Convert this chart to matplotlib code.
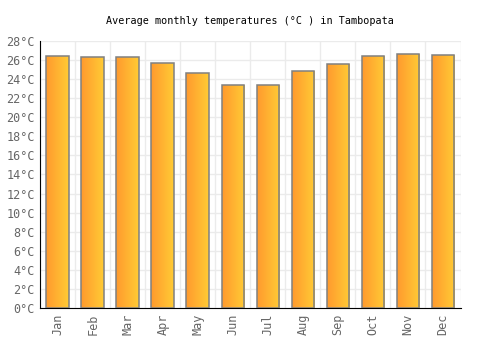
import numpy as np
import matplotlib.pyplot as plt
from matplotlib.colors import LinearSegmentedColormap

# Average monthly temperatures in Tambopata
months = ['Jan', 'Feb', 'Mar', 'Apr', 'May', 'Jun', 'Jul', 'Aug', 'Sep', 'Oct', 'Nov', 'Dec']
temps = [26.4, 26.3, 26.3, 25.7, 24.6, 23.4, 23.4, 24.8, 25.6, 26.4, 26.6, 26.5]
y_ticks = list(range(0, 29, 2))

plt.rcParams['font.family'] = 'DejaVu Sans Mono'

fig = plt.figure(figsize=(5, 3.5), dpi=100)
ax = fig.add_axes([0.0806, 0.119, 0.8404, 0.765])

x = np.arange(len(months))
bars = ax.bar(x, temps, width=0.65, color='none', edgecolor='#808080', linewidth=1.1, zorder=3)

# horizontal gradient fill for each bar
cmap = LinearSegmentedColormap.from_list('sun', ['#ff9a2e', '#ffcb35'])
grad = np.linspace(0, 1, 64).reshape(1, -1)
for b in bars:
    x0, w, h = b.get_x(), b.get_width(), b.get_height()
    im = ax.imshow(grad, cmap=cmap, aspect='auto', extent=[x0, x0 + w, 0, h], zorder=2)
    im.set_clip_path(b)

ax.set_xlim(-0.5, len(months) - 0.5)
ax.set_ylim(0, 28)
ax.set_xticks(x)
ax.set_xticklabels(months, rotation=90)
ax.set_yticks(y_ticks)
ax.set_yticklabels([f'{t}°C' for t in y_ticks])
ax.tick_params(axis='both', length=0, labelsize=8.5, labelcolor='#666666', pad=4)

# grid between months and at every 2 degrees
ax.set_xticks(np.arange(-0.5, len(months)), minor=True)
ax.grid(True, which='minor', axis='x', color='#ebebeb', linewidth=1, zorder=0)
ax.grid(True, which='major', axis='y', color='#ebebeb', linewidth=1, zorder=0)
ax.tick_params(which='minor', length=0)

for side in ['top', 'right']:
    ax.spines[side].set_visible(False)
ax.spines['left'].set_color('black')
ax.spines['bottom'].set_color('black')

fig.text(0.5, 0.94, 'Average monthly temperatures (°C ) in Tambopata',
         ha='center', va='center', fontsize=7.3, color='black')

fig.savefig('out.png', dpi=100)
